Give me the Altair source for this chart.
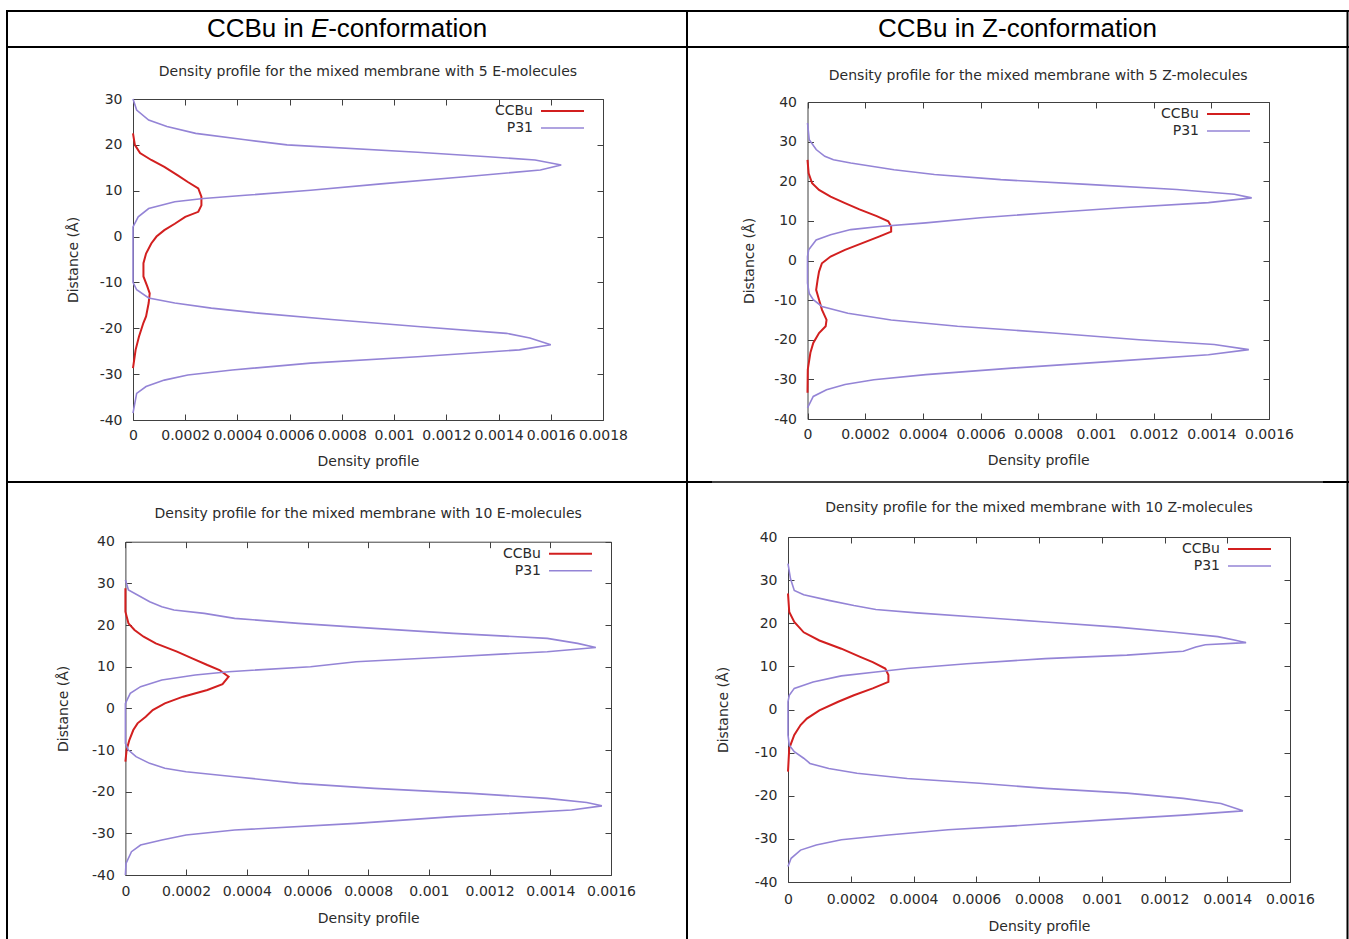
import altair as alt
import pandas as pd

# ---------------- data ----------------
series_names = ["CCBu", "P31"]

# Panel 1: 5 E-molecules
p1_ccbu_dist = [22.5, 20.0, 18.2, 16.7, 15.2, 13.4, 11.9, 10.5, 8.7, 6.8, 5.4, 4.3, 2.8, 1.4, 0.0,
                -1.5, -3.7, -5.8, -8.7, -10.9, -12.4, -14.5, -17.4, -18.8, -21.8, -24.7, -28.7]
p1_ccbu_dens = [0.0, 0.000007, 0.000027, 0.00007, 0.00012, 0.00017, 0.00021, 0.00025, 0.000262, 0.000262,
                0.00025, 0.0002, 0.00016, 0.00012, 0.00009, 0.00007, 0.00005, 0.00004, 0.00004, 0.000055,
                0.000064, 0.00006, 0.00005, 0.00004, 0.000023, 0.00001, 0.0]
p1_p31_dist = [30.0, 27.6, 25.4, 24.0, 22.5, 21.1, 20.0, 18.4, 17.4, 16.7, 15.6, 14.5, 13.0, 11.5, 10.1,
               9.0, 8.3, 7.6, 6.1, 4.3, 2.1, -10.0, -11.6, -13.4, -14.5, -15.6, -16.7, -18.1, -19.6,
               -21.1, -22.1, -23.6, -24.7, -26.2, -27.6, -29.1, -30.2, -31.3, -32.7, -34.2, -38.5]
p1_p31_dens = [0.0, 0.000014, 0.00006, 0.00013, 0.00024, 0.00043, 0.00059, 0.00109, 0.00136, 0.00154,
               0.00164, 0.00156, 0.00126, 0.00095, 0.00068, 0.00043, 0.00027, 0.00016, 0.00006, 0.00002,
               0.0, 0.0, 0.000014, 0.00006, 0.00016, 0.0003, 0.00048, 0.00076, 0.00109, 0.00143, 0.00152,
               0.0016, 0.00148, 0.00109, 0.00068, 0.00038, 0.00021, 0.00012, 0.00005, 0.000014, 0.0]

# Panel 2: 5 Z-molecules
p2_ccbu_dist = [25.4, 22.0, 19.5, 17.8, 16.1, 14.5, 12.9, 11.2, 9.9, 8.6, 7.3, 6.1, 4.4, 2.7, 1.0, -0.7,
                -2.8, -4.9, -7.4, -9.9, -12.4, -15.0, -16.6, -18.3, -20.8, -23.3, -27.5, -33.4]
p2_ccbu_dens = [0.0, 0.000004, 0.000016, 0.00004, 0.00008, 0.00013, 0.00018, 0.00024, 0.00028, 0.00029,
                0.00029, 0.00025, 0.00019, 0.00013, 0.00008, 0.00005, 0.00004, 0.000035, 0.00003, 0.00004,
                0.00005, 0.000066, 0.000063, 0.00004, 0.00002, 0.00001, 0.000001, 0.0]
p2_p31_dist = [34.7, 30.5, 28.0, 26.3, 25.4, 24.6, 22.9, 21.7, 20.4, 19.2, 17.9, 16.7, 15.8, 14.6, 13.3,
               12.1, 10.8, 9.5, 8.6, 7.8, 6.5, 5.2, 2.7, 1.0, -5.7, -8.3, -9.9, -11.6, -13.3, -15.0,
               -16.6, -18.3, -20.0, -21.2, -22.5, -23.8, -25.4, -27.1, -28.8, -30.1, -31.3, -32.6,
               -34.3, -37.2]
p2_p31_dens = [0.0, 0.000006, 0.00003, 0.00006, 0.00009, 0.00015, 0.0003, 0.00044, 0.00067, 0.00097,
               0.00128, 0.00148, 0.00154, 0.00139, 0.00109, 0.00085, 0.0006, 0.00041, 0.00025, 0.00015,
               0.00008, 0.00003, 0.000004, 0.0, 0.0, 0.000006, 0.00002, 0.00005, 0.00014, 0.00029,
               0.00052, 0.00085, 0.00115, 0.00141, 0.00153, 0.00139, 0.00107, 0.00072, 0.00041, 0.00023,
               0.00013, 0.000066, 0.00002, 0.0]

# Panel 3: 10 E-molecules
p3_ccbu_dist = [28.8, 23.2, 20.4, 18.8, 17.2, 15.6, 13.6, 12.0, 10.4, 9.2, 7.6, 5.8, 4.4, 2.8, 1.2,
                -0.4, -2.0, -3.6, -5.2, -7.6, -10.0, -12.8]
p3_ccbu_dens = [0.0, 0.0, 0.00001, 0.00003, 0.00006, 0.0001, 0.00017, 0.00022, 0.00027, 0.00031, 0.00034,
                0.00032, 0.00027, 0.00019, 0.00013, 0.00009, 0.000067, 0.00004, 0.000026, 0.000013,
                0.000004, 0.0]
p3_p31_dist = [30.8, 28.4, 27.2, 25.6, 24.4, 23.6, 22.8, 21.6, 20.4, 19.2, 18.0, 16.8, 15.6, 14.6, 13.6,
               12.4, 11.2, 10.0, 8.8, 8.0, 6.8, 5.2, 3.6, 1.2, -8.4, -10.0, -11.6, -13.2, -14.4, -15.2,
               -16.4, -18.0, -19.2, -20.4, -21.6, -22.6, -23.4, -24.4, -26.0, -27.6, -29.2, -30.4,
               -31.6, -32.8, -34.4, -37.2, -40.0]
p3_p31_dens = [0.0, 0.00001, 0.00004, 0.00008, 0.00012, 0.00016, 0.00026, 0.00036, 0.00057, 0.00082,
               0.00108, 0.00139, 0.00149, 0.00155, 0.00139, 0.00108, 0.00076, 0.00061, 0.00034, 0.00023,
               0.00012, 0.00005, 0.000016, 0.0, 0.0, 0.00001, 0.000035, 0.00008, 0.00013, 0.0002,
               0.00036, 0.00057, 0.00082, 0.00114, 0.00139, 0.00152, 0.00157, 0.00147, 0.00108, 0.00076,
               0.00036, 0.0002, 0.00012, 0.00005, 0.00002, 0.000002, 0.0]

# Panel 4: 10 Z-molecules
p4_ccbu_dist = [26.9, 22.6, 20.3, 17.9, 16.0, 14.1, 12.2, 11.0, 9.5, 8.0, 6.4, 4.9, 3.3, 1.8, -0.2,
                -2.1, -3.6, -5.9, -9.0, -14.4]
p4_ccbu_dens = [0.0, 0.000004, 0.00002, 0.00005, 0.0001, 0.00017, 0.00023, 0.00027, 0.00031, 0.00032,
                0.00032, 0.00027, 0.00021, 0.00016, 0.0001, 0.00006, 0.00004, 0.00002, 0.000004, 0.0]
p4_p31_dist = [33.8, 30.3, 27.6, 26.6, 25.3, 24.1, 23.2, 22.4, 21.4, 20.3, 19.1, 17.9, 16.9, 16.0, 15.5,
               15.0, 14.5, 13.5, 12.6, 11.8, 10.6, 9.5, 8.7, 7.8, 6.4, 4.9, 3.3, 1.8, -5.9, -8.3, -9.8,
               -11.3, -12.5, -13.7, -14.8, -16.0, -17.1, -18.3, -19.4, -20.6, -21.8, -23.5, -24.5,
               -25.6, -26.8, -27.9, -29.1, -30.2, -31.4, -32.6, -34.5, -36.4]
p4_p31_dens = [0.0, 0.000008, 0.00002, 0.00005, 0.00013, 0.00021, 0.00028, 0.00041, 0.00061, 0.00082,
               0.00105, 0.00123, 0.00137, 0.00143, 0.00146, 0.00133, 0.0013, 0.00126, 0.00108, 0.00082,
               0.00057, 0.00038, 0.00028, 0.00017, 0.00008, 0.00002, 0.000004, 0.0, 0.0, 0.000004,
               0.00002, 0.00005, 0.00007, 0.00013, 0.00022, 0.00038, 0.00061, 0.00082, 0.00108, 0.00126,
               0.00138, 0.00145, 0.00126, 0.00101, 0.00076, 0.00051, 0.00032, 0.00017, 0.00009, 0.00004,
               0.00001, 0.0]

x_ticks_18 = [0, 0.0002, 0.0004, 0.0006, 0.0008, 0.001, 0.0012, 0.0014, 0.0016, 0.0018]
x_ticks_16 = [0, 0.0002, 0.0004, 0.0006, 0.0008, 0.001, 0.0012, 0.0014, 0.0016]
y_ticks_30 = [-40, -30, -20, -10, 0, 10, 20, 30]
y_ticks_40 = [-40, -30, -20, -10, 0, 10, 20, 30, 40]

panel_titles = [
    "Density profile for the mixed membrane with 5 E-molecules",
    "Density profile for the mixed membrane with 5 Z-molecules",
    "Density profile for the mixed membrane with 10 E-molecules",
    "Density profile for the mixed membrane with 10 Z-molecules",
]
header_left_parts = ["CCBu in", "E", "-conformation"]
header_right = "CCBu in Z-conformation"
x_title = "Density profile"
y_title = "Distance (Å)"

# ---------------- styling / layout ----------------
W, H = 1349, 939
FONT = "DejaVu Sans"
HFONT = "Liberation Sans"
TXT = "#2b2b2b"
FRAME = "#404040"
RED = "#d21f1f"
PURPLE = "#9484d6"

layouts = [
    dict(x0=133, x1=603, yt=99, yb=420, xt_dy=41, yt_dx=60, t_dy=27, lpx=8),
    dict(x0=807.5, x1=1269, yt=102, yb=419, xt_dy=41, yt_dx=58, t_dy=26, lpx=8),
    dict(x0=125.4, x1=611, yt=541.7, yb=875, xt_dy=43, yt_dx=62, t_dy=28, lpx=9),
    dict(x0=788, x1=1290, yt=537, yb=882, xt_dy=44, yt_dx=65, t_dy=29, lpx=10),
]

panels = [
    (p1_ccbu_dist, p1_ccbu_dens, p1_p31_dist, p1_p31_dens, x_ticks_18, y_ticks_30),
    (p2_ccbu_dist, p2_ccbu_dens, p2_p31_dist, p2_p31_dens, x_ticks_16, y_ticks_40),
    (p3_ccbu_dist, p3_ccbu_dens, p3_p31_dist, p3_p31_dens, x_ticks_16, y_ticks_40),
    (p4_ccbu_dist, p4_ccbu_dens, p4_p31_dist, p4_p31_dens, x_ticks_16, y_ticks_40),
]

AX = dict(labelFont=FONT, labelFontSize=14, labelColor=TXT, titleFont=FONT, titleFontSize=14,
          titleColor=TXT, titleFontWeight="normal", grid=False, domainColor=FRAME, domainWidth=1,
          tickColor=FRAME, tickWidth=1)

one = pd.DataFrame({"k": [0]})


def build_df(cd, cv, pd_, pv):
    rows = []
    for name, dist, dens in ((series_names[0], cd, cv), (series_names[1], pd_, pv)):
        for i, (d, v) in enumerate(zip(dist, dens)):
            rows.append({"series": name, "dist": d, "dens": v, "idx": i})
    return pd.DataFrame(rows)


layers = []
for (cd, cv, pdist, pv, xt, yt), L, ttl in zip(panels, layouts, panel_titles):
    df = build_df(cd, cv, pdist, pv)
    xsc = alt.Scale(domain=[0, xt[-1]], range=[L["x0"], L["x1"]], nice=False, zero=False)
    ysc = alt.Scale(domain=[-40, yt[-1]], range=[L["yb"], L["yt"]], nice=False, zero=False)
    base = alt.Chart(df)

    lines = base.mark_line(clip=False).encode(
        x=alt.X("dens:Q", scale=xsc, axis=alt.Axis(
            orient="bottom", offset=L["yb"] - H, values=xt, labelExpr="'' + datum.value",
            ticks=False, domain=True, labelPadding=L["lpx"], labelOverlap=False, labelFlush=False,
            title=x_title, titleY=L["xt_dy"], titleBaseline="middle", **AX)),
        y=alt.Y("dist:Q", scale=ysc, axis=alt.Axis(
            orient="left", offset=-L["x0"], values=yt, labelExpr="'' + datum.value",
            ticks=False, domain=True, labelPadding=11, labelOverlap=False, labelFlush=False,
            title=y_title, titleX=-L["yt_dx"], titleBaseline="middle", titleAngle=270, **AX)),
        color=alt.Color("series:N", scale=alt.Scale(domain=series_names, range=[RED, PURPLE]),
                        legend=None),
        size=alt.Size("series:N", scale=alt.Scale(domain=series_names, range=[2.0, 1.6]),
                      legend=None),
        order=alt.Order("idx:Q"),
    )
    ticks_bl = base.mark_point(opacity=0).encode(
        x=alt.X("dens:Q", scale=xsc, axis=alt.Axis(
            orient="top", offset=-L["yb"], values=xt, labels=False, domain=False,
            ticks=True, tickSize=6, title="", **AX)),
        y=alt.Y("dist:Q", scale=ysc, axis=alt.Axis(
            orient="right", offset=L["x0"] - W, values=yt, labels=False, domain=False,
            ticks=True, tickSize=6, title="", **AX)),
    )
    ticks_tr = base.mark_point(opacity=0).encode(
        x=alt.X("dens:Q", scale=xsc, axis=alt.Axis(
            orient="bottom", offset=L["yt"] - H, values=xt, labels=False, domain=True,
            ticks=True, tickSize=6, title="", **AX)),
        y=alt.Y("dist:Q", scale=ysc, axis=alt.Axis(
            orient="left", offset=-L["x1"], values=yt, labels=False, domain=True,
            ticks=True, tickSize=6, title="", **AX)),
    )
    title_mark = alt.Chart(one).mark_text(font=FONT, fontSize=14, color=TXT, align="center",
                                          baseline="middle").encode(
        x=alt.value((L["x0"] + L["x1"]) / 2), y=alt.value(L["yt"] - L["t_dy"]),
        text=alt.value(ttl))

    lx1 = L["x1"] - 19
    lx0 = lx1 - 43
    leg = []
    for j, (name, col) in enumerate(zip(series_names, [RED, PURPLE])):
        ly = L["yt"] + 12 + 17 * j
        leg.append(alt.Chart(one).mark_text(font=FONT, fontSize=14, color=TXT, align="right",
                                            baseline="middle").encode(
            x=alt.value(lx0 - 8), y=alt.value(ly), text=alt.value(name)))
        leg.append(alt.Chart(one).mark_rule(color=col, strokeWidth=2.0 if j == 0 else 1.6).encode(
            x=alt.value(lx0), x2=alt.value(lx1), y=alt.value(ly)))

    layers += [lines, ticks_bl, ticks_tr, title_mark] + leg


def hrule(x0, x1, y, w=2.0):
    return alt.Chart(one).mark_rule(color="black", strokeWidth=w).encode(
        x=alt.value(x0), x2=alt.value(x1), y=alt.value(y))


def vrule(x, y0, y1, w=2.0):
    return alt.Chart(one).mark_rule(color="black", strokeWidth=w).encode(
        x=alt.value(x), y=alt.value(y0), y2=alt.value(y1))


table = [
    hrule(6, 1349, 11), hrule(6, 1349, 47),
    hrule(6, 712, 482), hrule(712, 1323, 482, 1.3), hrule(1323, 1349, 482),
    vrule(7, 10, 939), vrule(1347.5, 10, 939), vrule(687, 10, 939),
]

HS = 26
hx = [206.9, 310.9, 328.2]
header = [
    alt.Chart(one).mark_text(font=HFONT, fontSize=HS, color="black", align="left",
                             baseline="alphabetic",
                             fontStyle=("italic" if k == 1 else "normal")).encode(
        x=alt.value(hx[k]), y=alt.value(36.5), text=alt.value(header_left_parts[k]))
    for k in range(3)
]
header.append(alt.Chart(one).mark_text(font=HFONT, fontSize=HS, color="black", align="center",
                                       baseline="alphabetic").encode(
    x=alt.value(1017.5), y=alt.value(36.5), text=alt.value(header_right)))

chart = alt.layer(*(layers + table + header)).resolve_scale(
    x="independent", y="independent", color="independent", size="independent"
).properties(
    width=W, height=H, padding=0, autosize=alt.AutoSizeParams(type="none"), background="white"
).configure_view(strokeWidth=0)

chart.save("out.html", embed_options={"renderer": "svg", "actions": False})
